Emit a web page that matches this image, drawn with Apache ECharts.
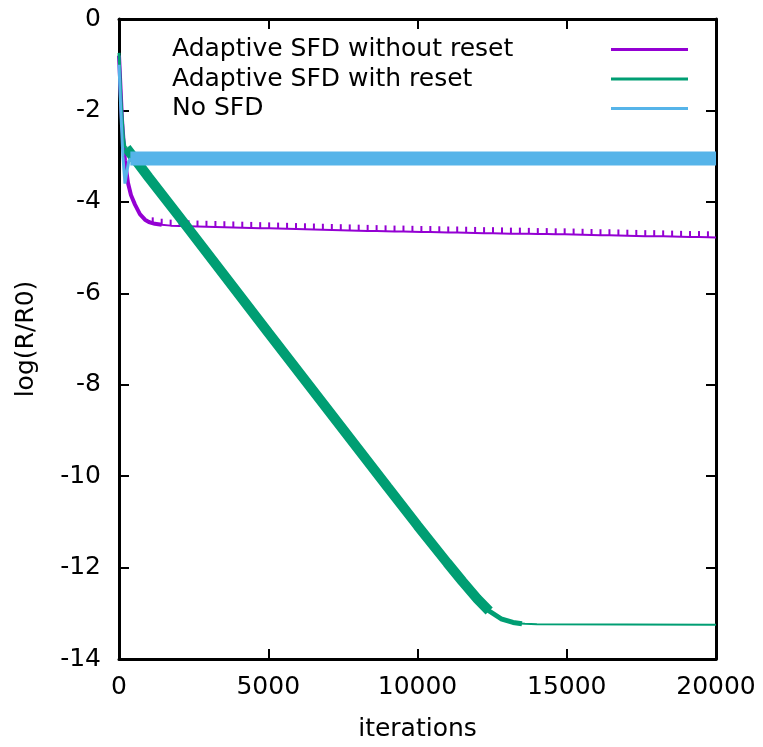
<!DOCTYPE html>
<html lang="en">
    <head>
        <meta charset="utf-8">
        <title>log(R/R0) vs iterations</title>
        <style>
            html, body { margin: 0; padding: 0; background: #fff; }
            #chart { width: 763px; height: 747px; }
        </style>
    </head>
    <body>
        <div id="chart"></div>
        <script src="https://cdn.jsdelivr.net/npm/echarts@6/dist/echarts.min.js"></script>
        <script type="text/javascript">
            // series names
            var names = ['Adaptive SFD without reset', 'Adaptive SFD with reset', 'No SFD'];

            // purple: fast drop, then slow decay (ticks show the periodic jumps)
            var purpleHead = [[0, -0.8], [100, -2.2], [200, -3.1], [300, -3.58], [400, -3.85], [536, -4.06],
                [700, -4.27], [870, -4.39], [1000, -4.44], [1200, -4.48], [1430, -4.5]];
            var purpleTail = [[1130, -4.47], [1430, -4.50], [1730, -4.52], [2030, -4.53], [2330, -4.535],
                [2630, -4.54], [2930, -4.545], [3230, -4.55], [3530, -4.555], [3830, -4.56], [4130, -4.565],
                [4430, -4.57], [4730, -4.575], [5030, -4.58], [5330, -4.585], [5630, -4.59], [5930, -4.595],
                [6230, -4.6], [6530, -4.605], [6830, -4.61], [7130, -4.615], [7430, -4.62], [7730, -4.625],
                [8030, -4.63], [8330, -4.635], [8630, -4.64], [8930, -4.645], [9230, -4.65], [9530, -4.65],
                [9830, -4.655], [10130, -4.66], [10430, -4.66], [10730, -4.665], [11030, -4.67], [11330, -4.67],
                [11630, -4.675], [11930, -4.68], [12230, -4.685], [12530, -4.685], [12830, -4.69], [13130, -4.695],
                [13430, -4.695], [13730, -4.7], [14030, -4.705], [14330, -4.705], [14630, -4.71], [14930, -4.71],
                [15230, -4.715], [15530, -4.72], [15830, -4.725], [16130, -4.73], [16430, -4.73], [16730, -4.735],
                [17030, -4.74], [17330, -4.745], [17630, -4.75], [17930, -4.75], [18230, -4.755], [18530, -4.76],
                [18830, -4.765], [19130, -4.77], [19430, -4.77], [19730, -4.775]];
            var purpleEnd = [20000, -4.78];

            // green: linear descent to the floor
            var greenHead = [[0, -0.74], [70, -1.8], [150, -2.6], [200, -2.8], [260, -2.82]];
            var greenBand = [[250, -2.82], [1000, -3.47], [2000, -4.31], [5000, -6.86], [9000, -10.24],
                [10000, -11.08], [11000, -11.9], [11500, -12.3], [12000, -12.68], [12400, -12.95]];
            var greenKnee = [[12300, -12.89], [12400, -12.95], [12800, -13.12], [13200, -13.2], [13500, -13.23]];
            var greenTail = [[13300, -13.22], [13600, -13.23], [14000, -13.24], [20000, -13.25]];

            // blue: stagnates around -3
            var blueHead = [[0, -1.0], [60, -2.0], [130, -3.0], [200, -3.6], [260, -3.35], [330, -3.1], [400, -3.05]];
            var blueBand = [[380, -3.05], [20000, -3.05]];

            var xTicks = [0, 5000, 10000, 15000, 20000];
            var yTicks = [0, -2, -4, -6, -8, -10, -12, -14];

            var colors = ['#9400d3', '#009e73', '#56b4e9'];
            var font = 'DejaVu Sans';

            var myChart = echarts.init(document.getElementById('chart'));

            var purpleData = purpleTail.map(function (p) { return p; });
            purpleData.push({ value: purpleEnd, symbol: 'none' });

            function lineSeries(name, data, color, width, z) {
                return {
                    name: name,
                    type: 'line',
                    data: data,
                    showSymbol: false,
                    symbol: 'none',
                    animation: false,
                    z: z,
                    lineStyle: { color: color, width: width },
                    itemStyle: { color: color }
                };
            }

            var tailSeries = lineSeries(names[0], purpleData, colors[0], 2, 2);
            tailSeries.symbol = 'rect';
            tailSeries.showSymbol = true;
            tailSeries.symbolSize = [2, 6];
            tailSeries.symbolOffset = [0, -3];

            //轴线、刻度（四边框，刻度朝内）
            function frameAxis(pos, min, max, step, ticks) {
                var ax = {
                    type: 'value',
                    position: pos,
                    min: min,
                    max: max,
                    interval: step,
                    axisLine: { show: true, onZero: false, lineStyle: { color: '#000', width: 3 } },
                    axisTick: { show: true, inside: true, length: 10, lineStyle: { color: '#000', width: 2 } },
                    axisLabel: { show: false },
                    splitLine: { show: false }
                };
                if (ticks) {
                    ax.axisLabel = {
                        show: true,
                        fontFamily: font,
                        fontSize: 25,
                        color: '#000',
                        margin: pos == 'left' ? 18 : 16,
                        customValues: ticks,
                        formatter: function (v) { return String(v); }
                    };
                }
                return ax;
            }

            var xBottom = frameAxis('bottom', 0, 20000, 5000, xTicks);
            xBottom.name = 'iterations';
            xBottom.nameLocation = 'middle';
            xBottom.nameGap = 58;
            xBottom.nameTextStyle = { fontFamily: font, fontSize: 25, color: '#000' };

            var yLeft = frameAxis('left', -14, 0, 2, yTicks);
            yLeft.name = 'log(R/R0)';
            yLeft.nameLocation = 'middle';
            yLeft.nameGap = 80;
            yLeft.nameTextStyle = { fontFamily: font, fontSize: 25, color: '#000' };

            var option = {
                backgroundColor: '#fff',
                animation: false,
                color: colors,
                textStyle: { fontFamily: font },
                grid: { left: 119, right: 47, top: 19, bottom: 87 },
                legend: {
                    data: names,
                    orient: 'vertical',
                    left: 167,
                    top: 32,
                    align: 'right',
                    icon: 'rect',
                    itemWidth: 77,
                    itemHeight: 3,
                    itemGap: 4.5,
                    selectedMode: false,
                    formatter: '{t|{name}}',
                    textStyle: {
                        fontFamily: font,
                        fontSize: 25,
                        color: '#000',
                        rich: {
                            t: {
                                fontFamily: font,
                                fontSize: 25,
                                color: '#000',
                                width: 434,
                                align: 'left'
                            }
                        }
                    }
                },
                xAxis: [xBottom, frameAxis('top', 0, 20000, 5000, null)],
                yAxis: [yLeft, frameAxis('right', -14, 0, 2, null)],
                series: [
                    lineSeries(names[0], purpleHead, colors[0], 4, 2),
                    tailSeries,
                    lineSeries(names[1], greenHead, colors[1], 3, 3),
                    lineSeries(names[1], greenBand, colors[1], 10, 3),
                    lineSeries(names[1], greenKnee, colors[1], 5, 3),
                    lineSeries(names[1], greenTail, colors[1], 2, 3),
                    lineSeries(names[2], blueHead, colors[2], 3, 4),
                    lineSeries(names[2], blueBand, colors[2], 14, 4)
                ]
            };
            myChart.setOption(option);
        </script>
    </body>
</html>
